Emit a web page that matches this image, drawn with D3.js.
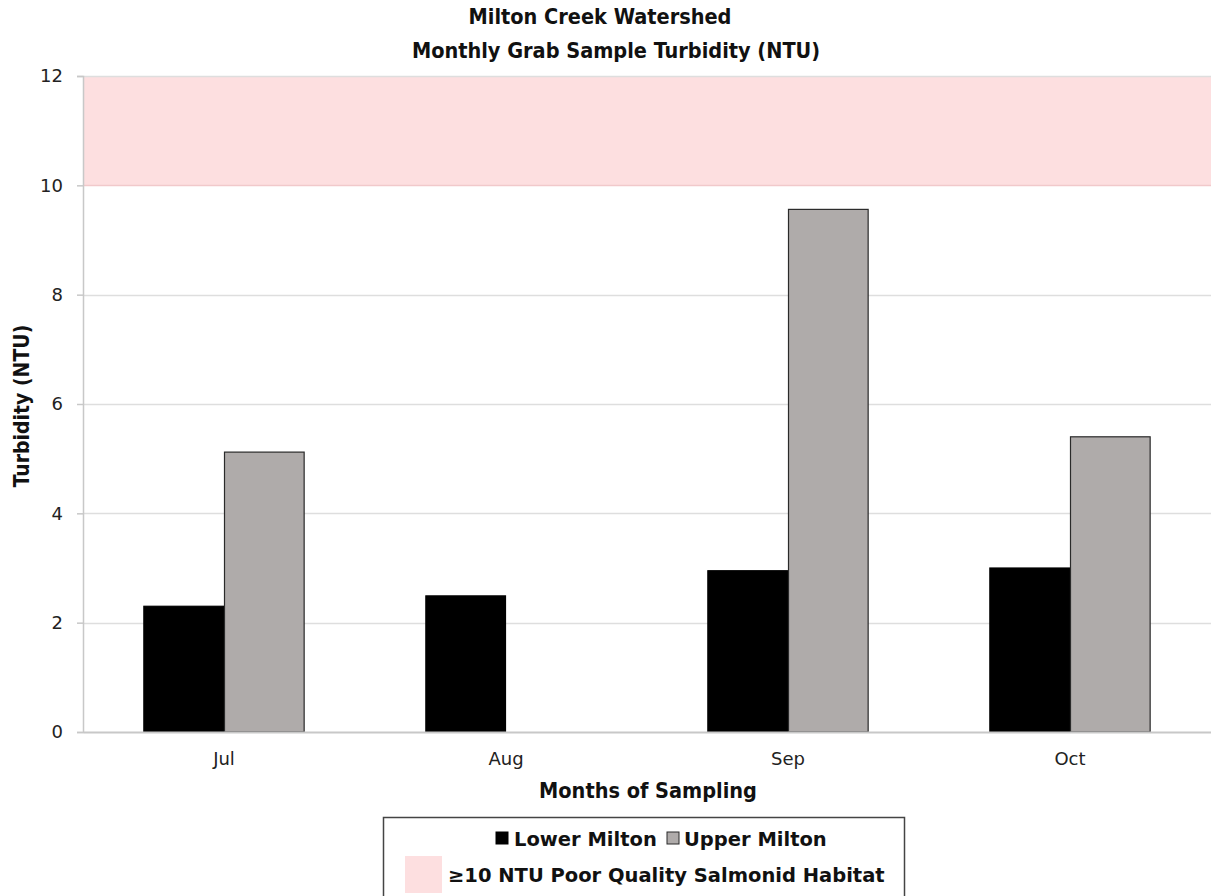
<!DOCTYPE html>
<html>
<head>
<meta charset="utf-8">
<script src="https://cdn.jsdelivr.net/npm/d3@7"></script>
<style>
  html, body { margin: 0; padding: 0; background: #fff; }
  svg { display: block; }
  .ttl { font-family: "DejaVu Sans Condensed", "DejaVu Sans", sans-serif; font-weight: bold; fill: #111; }
  .tick text { font-family: "DejaVu Sans", Verdana, sans-serif; }
</style>
</head>
<body>
<svg id="chart" width="1211" height="896"></svg>
<script>
// Monthly grab sample turbidity, Milton Creek watershed
const months = ["Jul", "Aug", "Sep", "Oct"];
const seriesNames = ["Lower Milton", "Upper Milton"];
const lowerMilton = [2.30, 2.49, 2.95, 3.00];
const upperMilton = [5.12, null, 9.56, 5.40];
const yTicks = [0, 2, 4, 6, 8, 10, 12];
const habitatThreshold = 10;   // >= 10 NTU poor quality salmonid habitat
const yMax = 12;

const colors = { "Lower Milton": "#000000", "Upper Milton": "#afabaa" };
const strokes = { "Lower Milton": "#000000", "Upper Milton": "#2a2a2a" };

const svg = d3.select("#chart");
const margin = { left: 83, right: 0, top: 76, bottom: 164 };
const W = 1211, H = 896;
const plotW = W - margin.left - margin.right;
const plotH = H - margin.top - margin.bottom;

const g = svg.append("g").attr("transform", `translate(${margin.left},${margin.top})`);

const x = d3.scaleBand().domain(months).range([0, plotW]).padding(0);
const groupW = x.bandwidth() * 0.572;
const x1 = d3.scaleBand().domain(seriesNames).range([0, groupW]).padding(0);
const y = d3.scaleLinear().domain([0, yMax]).range([plotH, 0]);

// Poor habitat band
g.append("rect")
  .attr("x", 0).attr("width", plotW)
  .attr("y", y(yMax)).attr("height", y(habitatThreshold) - y(yMax))
  .attr("fill", "#fddfe0");

// Gridlines
g.append("g").selectAll("line").data(yTicks.filter(d => d > 0)).join("line")
  .attr("x1", 0).attr("x2", plotW)
  .attr("y1", d => Math.round(y(d)) + 0.5).attr("y2", d => Math.round(y(d)) + 0.5)
  .attr("stroke", d => d === habitatThreshold ? "#f1c9cb" : "#dedede")
  .attr("stroke-width", 1.5);

// Bars
const rows = months.map((m, i) => ({ month: m, values: [
  { key: "Lower Milton", v: lowerMilton[i] },
  { key: "Upper Milton", v: upperMilton[i] }
]}));

const groups = g.append("g").selectAll("g").data(rows).join("g")
  .attr("transform", d => `translate(${x(d.month) + (x.bandwidth() - groupW) / 2},0)`);

groups.selectAll("rect").data(d => d.values.filter(v => v.v != null)).join("rect")
  .attr("x", d => x1(d.key) + 0.5)
  .attr("width", x1.bandwidth() - 1)
  .attr("y", d => y(d.v))
  .attr("height", d => y(0) - y(d.v))
  .attr("fill", d => colors[d.key])
  .attr("stroke", d => strokes[d.key])
  .attr("stroke-width", 1.2);

// Y axis
const yAxis = g.append("g")
  .call(d3.axisLeft(y).tickValues(yTicks).tickSize(6).tickPadding(14).tickFormat(d3.format("d")));
yAxis.select(".domain").attr("stroke", "#c8c8c8").attr("stroke-width", 1.5);
yAxis.selectAll(".tick line").attr("stroke", "#c8c8c8").attr("stroke-width", 1.5);
yAxis.selectAll(".tick text").attr("font-size", 18).attr("fill", "#222");

// X axis
const xAxis = g.append("g").attr("transform", `translate(0,${plotH})`)
  .call(d3.axisBottom(x).tickSize(0).tickPadding(20));
xAxis.select(".domain").attr("stroke", "#c8c8c8").attr("stroke-width", 2);
xAxis.selectAll(".tick text").attr("font-size", 18).attr("fill", "#222");

// Titles
svg.append("text").attr("class", "ttl").attr("x", 600).attr("y", 24)
  .attr("text-anchor", "middle").attr("font-size", 21.5).text("Milton Creek Watershed");
svg.append("text").attr("class", "ttl").attr("x", 616).attr("y", 58)
  .attr("text-anchor", "middle").attr("font-size", 21.5).text("Monthly Grab Sample Turbidity (NTU)");

svg.append("text").attr("class", "ttl")
  .attr("transform", `translate(29,${margin.top + plotH / 2 + 2}) rotate(-90)`)
  .attr("text-anchor", "middle").attr("font-size", 21).text("Turbidity (NTU)");

svg.append("text").attr("class", "ttl").attr("x", 648).attr("y", 798)
  .attr("text-anchor", "middle").attr("font-size", 21.5).text("Months of Sampling");

// Legend
const lg = svg.append("g");
lg.append("rect").attr("x", 383.5).attr("y", 817.5).attr("width", 521).attr("height", 90)
  .attr("fill", "#fff").attr("stroke", "#444").attr("stroke-width", 1.5);

const legendFont = "\"DejaVu Sans\", Verdana, sans-serif";
const row1 = [
  { key: "Lower Milton", sx: 496, tx: 514 },
  { key: "Upper Milton", sx: 667, tx: 684 }
];
row1.forEach(r => {
  lg.append("rect").attr("x", r.sx).attr("y", 832).attr("width", 12).attr("height", 12)
    .attr("fill", colors[r.key]).attr("stroke", strokes[r.key]).attr("stroke-width", 1);
  lg.append("text").attr("x", r.tx).attr("y", 846)
    .attr("font-family", legendFont).attr("font-weight", "bold").attr("font-size", 19.5)
    .attr("fill", "#111").text(r.key);
});
lg.append("rect").attr("x", 405).attr("y", 856).attr("width", 37).attr("height", 37).attr("fill", "#fddfe0");
lg.append("text").attr("x", 448).attr("y", 882)
  .attr("font-family", legendFont).attr("font-weight", "bold").attr("font-size", 19.5)
  .attr("fill", "#111").text("\u226510 NTU Poor Quality Salmonid Habitat");
</script>
</body>
</html>
